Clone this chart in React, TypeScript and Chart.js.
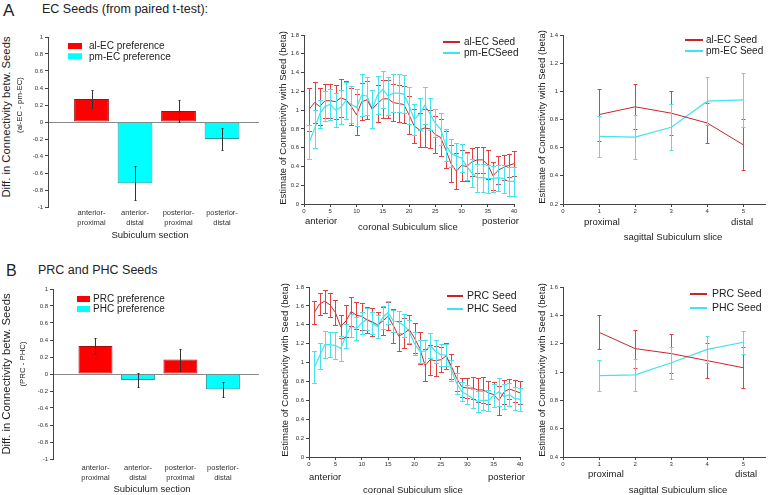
import React, { useEffect, useRef } from 'react';
import { Chart, registerables } from 'chart.js';
Chart.register(...registerables);

const FONT = '"Liberation Sans", Arial, sans-serif';

// ---------- DATA ----------
const barCategories = [['anterior-', 'proximal'], ['anterior-', 'distal'], ['posterior-', 'proximal'], ['posterior-', 'distal']];
const barPositions = [1, 2, 3, 4];
const barValuesA = [0.27, -0.72, 0.13, -0.2];
const barErrA = [0.105, 0.2, 0.13, 0.13];
const barLegendA = ['al-EC preference', 'pm-EC preference'];
const barValuesB = [0.33, -0.07, 0.17, -0.18];
const barErrB = [0.09, 0.08, 0.13, 0.09];
const barLegendB = ['PRC preference', 'PHC preference'];
const barTicks = [-1, -0.8, -0.6, -0.4, -0.2, 0, 0.2, 0.4, 0.6, 0.8, 1];

const coronalSlices = [1, 2, 3, 4, 5, 6, 7, 8, 9, 10, 11, 12, 13, 14, 15, 16, 17, 18, 19, 20, 21, 22, 23, 24, 25, 26, 27, 28, 29, 30, 31, 32, 33, 34, 35, 36, 37, 38, 39, 40];
const coronalTicks = [0, 5, 10, 15, 20, 25, 30, 35, 40];

const corA_alEC = [1.01, 1.08, 1.04, 1.10, 1.10, 1.09, 1.13, 1.11, 1.04, 0.95, 1.09, 1.11, 1.01, 1.07, 1.12, 1.12, 1.08, 1.07, 1.06, 0.95, 0.83, 0.79, 0.81, 0.80, 0.74, 0.71, 0.58, 0.43, 0.35, 0.41, 0.40, 0.45, 0.47, 0.47, 0.42, 0.30, 0.36, 0.39, 0.41, 0.43];
const corA_alEC_err = [0.23, 0.22, 0.2, 0.18, 0.18, 0.18, 0.2, 0.2, 0.2, 0.22, 0.2, 0.2, 0.2, 0.2, 0.2, 0.2, 0.2, 0.2, 0.2, 0.2, 0.18, 0.18, 0.2, 0.2, 0.2, 0.2, 0.2, 0.2, 0.19, 0.17, 0.15, 0.15, 0.14, 0.14, 0.15, 0.15, 0.15, 0.13, 0.12, 0.13];
const corA_pmEC = [0.66, 0.80, 0.96, 1.04, 1.06, 1.00, 1.03, 1.10, 1.06, 1.03, 1.16, 1.15, 1.01, 1.16, 1.22, 1.15, 1.18, 1.18, 1.17, 1.05, 0.90, 0.96, 1.05, 0.96, 0.86, 0.80, 0.63, 0.54, 0.51, 0.49, 0.40, 0.33, 0.28, 0.28, 0.27, 0.27, 0.28, 0.27, 0.24, 0.24];
const corA_pmEC_err = [0.18, 0.2, 0.15, 0.16, 0.16, 0.18, 0.18, 0.2, 0.2, 0.2, 0.22, 0.2, 0.2, 0.2, 0.2, 0.2, 0.2, 0.2, 0.2, 0.2, 0.17, 0.17, 0.2, 0.17, 0.15, 0.17, 0.17, 0.15, 0.14, 0.15, 0.14, 0.15, 0.15, 0.15, 0.15, 0.14, 0.14, 0.15, 0.15, 0.15];

const corB_PRC = [1.53, 1.62, 1.65, 1.61, 1.53, 1.38, 1.44, 1.54, 1.50, 1.49, 1.45, 1.43, 1.40, 1.44, 1.49, 1.39, 1.28, 1.31, 1.35, 1.26, 1.15, 0.97, 1.03, 1.02, 1.03, 1.07, 0.96, 0.83, 0.74, 0.73, 0.73, 0.71, 0.71, 0.68, 0.66, 0.60, 0.69, 0.72, 0.70, 0.68];
const corB_PRC_err = [0.12, 0.12, 0.12, 0.13, 0.13, 0.12, 0.17, 0.15, 0.14, 0.14, 0.14, 0.15, 0.14, 0.15, 0.15, 0.18, 0.16, 0.16, 0.15, 0.16, 0.17, 0.17, 0.16, 0.16, 0.13, 0.14, 0.13, 0.13, 0.1, 0.11, 0.12, 0.13, 0.14, 0.12, 0.13, 0.15, 0.13, 0.11, 0.12, 0.12];
const corB_PHC = [0.95, 1.07, 1.19, 1.19, 1.18, 1.15, 1.28, 1.39, 1.36, 1.42, 1.46, 1.42, 1.38, 1.48, 1.53, 1.44, 1.43, 1.39, 1.33, 1.20, 1.12, 1.12, 1.18, 1.12, 1.08, 1.08, 0.92, 0.78, 0.69, 0.66, 0.62, 0.59, 0.60, 0.60, 0.65, 0.69, 0.64, 0.66, 0.62, 0.61];
const corB_PHC_err = [0.17, 0.14, 0.14, 0.13, 0.14, 0.13, 0.13, 0.12, 0.12, 0.12, 0.12, 0.12, 0.12, 0.12, 0.12, 0.12, 0.12, 0.12, 0.12, 0.12, 0.12, 0.12, 0.13, 0.12, 0.12, 0.12, 0.11, 0.11, 0.1, 0.1, 0.1, 0.11, 0.1, 0.11, 0.12, 0.15, 0.13, 0.12, 0.12, 0.12];

const sagittalSlices = [1, 2, 3, 4, 5];
const sagittalTicks = [0, 1, 2, 3, 4, 5];
const sagA_alEC = [0.835, 0.89, 0.845, 0.775, 0.62];
const sagA_alEC_err = [0.185, 0.16, 0.155, 0.145, 0.18];
const sagA_pmEC = [0.68, 0.675, 0.745, 0.93, 0.94];
const sagA_pmEC_err = [0.145, 0.155, 0.165, 0.17, 0.19];
const sagB_PRC = [1.28, 1.165, 1.13, 1.08, 1.03];
const sagB_PRC_err = [0.12, 0.135, 0.135, 0.125, 0.145];
const sagB_PHC = [0.975, 0.98, 1.065, 1.16, 1.21];
const sagB_PHC_err = [0.112, 0.112, 0.112, 0.097, 0.082];

// ---------- STYLE ----------
const RED = '#ff0000';
const RED_EDGE = '#a01010';
const CYAN = '#00ffff';
const CYAN_EDGE = '#2a9a9a';
const RED_LINE = '#c8262c';
const RED_ERR = '#e04040';
const CYAN_LINE = '#3ee4ee';
const CYAN_ERR = '#48e2ec';
const AXIS = '#444';

type Rect = { L: number; T: number; R: number; B: number };
type Margins = { yW: number; padT: number; padR: number; xH: number };

function frame(p: Rect, m: Margins) {
  return { left: p.L - m.yW, top: p.T - m.padT, width: p.R - p.L + m.yW + m.padR, height: p.B - p.T + m.padT + m.xH };
}

const errorBarPlugin = {
  id: 'errorBars',
  afterDatasetsDraw(chart: any) {
    const ctx = chart.ctx;
    const ys = chart.scales.y;
    chart.data.datasets.forEach((ds: any, di: number) => {
      const errs = ds.errors;
      if (!errs) return;
      const meta = chart.getDatasetMeta(di);
      ctx.save();
      ctx.strokeStyle = ds.errorColor;
      ctx.lineWidth = 1;
      meta.data.forEach((el: any, i: number) => {
        const v = ds.data[i].y;
        const e = errs[i];
        const px = Math.round(el.x) + 0.5;
        const y1 = Math.round(ys.getPixelForValue(v - e)) + 0.5;
        const y2 = Math.round(ys.getPixelForValue(v + e)) + 0.5;
        const c = ds.capHalf || 2;
        ctx.beginPath();
        ctx.moveTo(px, y1);
        ctx.lineTo(px, y2);
        ctx.moveTo(px - c, y1);
        ctx.lineTo(px + c, y1);
        ctx.moveTo(px - c, y2);
        ctx.lineTo(px + c, y2);
        ctx.stroke();
      });
      ctx.restore();
    });
  },
};

const legendPlugin = {
  id: 'boxLegend',
  afterDraw(chart: any, _args: any, opts: any) {
    if (!opts || !opts.items) return;
    const ctx = chart.ctx;
    ctx.save();
    ctx.font = `${opts.size}px ${FONT}`;
    ctx.textBaseline = 'middle';
    ctx.textAlign = 'left';
    opts.items.forEach((it: any, i: number) => {
      const cy = opts.y + i * opts.rowH;
      if (opts.kind === 'box') {
        ctx.fillStyle = it.color;
        ctx.fillRect(opts.x, cy - opts.boxH / 2, opts.swW, opts.boxH);
      } else {
        ctx.strokeStyle = it.color;
        ctx.lineWidth = 2;
        ctx.beginPath();
        ctx.moveTo(opts.x, cy);
        ctx.lineTo(opts.x + opts.swW, cy);
        ctx.stroke();
      }
      ctx.fillStyle = '#222';
      ctx.fillText(it.label, opts.x + opts.swW + opts.gap, cy + 0.5);
    });
    ctx.restore();
  },
};

function zeroPad(s: any) {
  s.paddingLeft = 0;
  s.paddingRight = 0;
  s.paddingTop = 0;
  s.paddingBottom = 0;
}

function tickFmt(v: any) {
  return String(Math.round(Number(v) * 10) / 10);
}

function yScale(min: number, max: number, step: number, m: Margins, zeroLine = false) {
  return {
    type: 'linear',
    position: 'left',
    min,
    max,
    ticks: { stepSize: step, font: { family: FONT, size: 6 }, color: '#333', padding: 2, callback: tickFmt },
    grid: zeroLine
      ? {
          drawOnChartArea: true,
          color: (c: any) => (c.tick && Math.abs(c.tick.value) < 1e-9 ? '#8a8a8a' : 'rgba(0,0,0,0)'),
          tickColor: AXIS,
          tickLength: 3,
        }
      : { drawOnChartArea: false, color: AXIS, tickLength: 3 },
    border: { display: true, color: AXIS },
    afterFit: (s: any) => {
      s.width = m.yW;
      zeroPad(s);
    },
  };
}

function xLinear(min: number, max: number, tickVals: number[], m: Margins) {
  return {
    type: 'linear',
    position: 'bottom',
    min,
    max,
    offset: false,
    afterBuildTicks: (s: any) => {
      s.ticks = tickVals.map((v) => ({ value: v }));
    },
    ticks: { font: { family: FONT, size: 6 }, color: '#333', padding: 1, maxRotation: 0, autoSkip: false, callback: tickFmt },
    grid: { drawOnChartArea: false, color: AXIS, tickLength: 3 },
    border: { display: true, color: AXIS },
    afterFit: (s: any) => {
      s.height = m.xH;
      zeroPad(s);
    },
  };
}

function barConfig(values: number[], errs: number[], legendLabels: string[], p: Rect, m: Margins, leg: any, labelPad: number) {
  const fr = frame(p, m);
  return {
    frame: fr,
    config: {
      type: 'bar',
      data: {
        datasets: [
          {
            data: values.map((v, i) => ({ x: barPositions[i], y: v })),
            backgroundColor: values.map((v) => (v >= 0 ? RED : CYAN)),
            borderColor: values.map((v) => (v >= 0 ? RED_EDGE : CYAN_EDGE)),
            borderWidth: 1,
            borderSkipped: false,
            barPercentage: 1,
            categoryPercentage: 0.8,
            errors: errs,
            errorColor: '#333',
            capHalf: 1,
          },
        ],
      },
      options: {
        animation: false,
        responsive: false,
        devicePixelRatio: 1,
        layout: { padding: { top: m.padT, right: m.padR, left: 0, bottom: 0 } },
        plugins: {
          legend: { display: false },
          tooltip: { enabled: false },
          boxLegend: {
            kind: 'box',
            x: leg.x - fr.left,
            y: leg.y - fr.top,
            rowH: leg.rowH,
            swW: leg.swW,
            boxH: 6,
            gap: leg.gap,
            size: 10,
            items: [
              { label: legendLabels[0], color: RED },
              { label: legendLabels[1], color: CYAN },
            ],
          },
        },
        scales: {
          x: {
            type: 'linear',
            position: 'bottom',
            min: 0,
            max: 4.85,
            offset: false,
            afterBuildTicks: (s: any) => {
              s.ticks = barPositions.map((v) => ({ value: v }));
            },
            ticks: {
              font: { family: FONT, size: 7.5, lineHeight: 1.45 },
              color: '#333',
              padding: labelPad,
              maxRotation: 0,
              autoSkip: false,
              callback: (v: any) => barCategories[Math.round(Number(v)) - 1] || '',
            },
            grid: { display: false, drawTicks: false },
            border: { display: false },
            afterFit: (s: any) => {
              s.height = m.xH;
              zeroPad(s);
            },
          },
          y: {
            ...yScale(-1, 1, 0.2, m, true),
            afterBuildTicks: (s: any) => {
              s.ticks = barTicks.map((v) => ({ value: v }));
            },
          },
        },
      },
      plugins: [errorBarPlugin, legendPlugin],
    },
  };
}

function lineConfig(
  xs: number[],
  s1: number[],
  e1: number[],
  s2: number[],
  e2: number[],
  labels: string[],
  xMin: number,
  xMax: number,
  xTicks: number[],
  yMin: number,
  yMax: number,
  p: Rect,
  m: Margins,
  leg: any,
  cap: number
) {
  const fr = frame(p, m);
  return {
    frame: fr,
    config: {
      type: 'line',
      data: {
        datasets: [
          {
            label: labels[0],
            data: xs.map((x, i) => ({ x, y: s1[i] })),
            borderColor: RED_LINE,
            borderWidth: 1,
            pointRadius: 0,
            tension: 0,
            errors: e1,
            errorColor: RED_ERR,
            capHalf: cap,
          },
          {
            label: labels[1],
            data: xs.map((x, i) => ({ x, y: s2[i] })),
            borderColor: CYAN_LINE,
            borderWidth: 1.2,
            pointRadius: 0,
            tension: 0,
            errors: e2,
            errorColor: CYAN_ERR,
            capHalf: cap,
          },
        ],
      },
      options: {
        animation: false,
        responsive: false,
        devicePixelRatio: 1,
        layout: { padding: { top: m.padT, right: m.padR, left: 0, bottom: 0 } },
        plugins: {
          legend: { display: false },
          tooltip: { enabled: false },
          boxLegend: {
            kind: 'line',
            x: leg.x - fr.left,
            y: leg.y - fr.top,
            rowH: leg.rowH,
            swW: leg.swW,
            gap: leg.gap,
            size: leg.size,
            items: [
              { label: labels[0], color: RED_LINE },
              { label: labels[1], color: CYAN_LINE },
            ],
          },
        },
        scales: {
          x: xLinear(xMin, xMax, xTicks, m),
          y: yScale(yMin, yMax, 0.2, m),
        },
      },
      plugins: [errorBarPlugin, legendPlugin],
    },
  };
}

function ChartBox({ spec }: { spec: any }) {
  const ref = useRef<HTMLCanvasElement>(null);
  useEffect(() => {
    const c = new Chart(ref.current as HTMLCanvasElement, spec.config);
    return () => c.destroy();
  }, []);
  const f = spec.frame;
  return (
    <canvas
      ref={ref}
      width={f.width}
      height={f.height}
      style={{ position: 'absolute', left: f.left, top: f.top, width: f.width, height: f.height }}
    />
  );
}

function Txt({ x, y, s, a = 'left', r = false, children }: any) {
  const tx = a === 'left' ? '0' : a === 'center' ? '-50%' : '-100%';
  return (
    <div
      style={{
        position: 'absolute',
        left: x,
        top: y,
        fontFamily: FONT,
        fontSize: s,
        lineHeight: 1,
        whiteSpace: 'nowrap',
        color: '#222',
        transform: r ? 'translate(-50%,-50%) rotate(-90deg)' : `translate(${tx},-50%)`,
      }}
    >
      {children}
    </div>
  );
}

const mBar: Margins = { yW: 24, padT: 6, padR: 2, xH: 32 };
const mCor: Margins = { yW: 16, padT: 6, padR: 4, xH: 14 };
const mSag: Margins = { yW: 16, padT: 6, padR: 2, xH: 14 };

const specs = [
  barConfig(barValuesA, barErrA, barLegendA, { L: 48, T: 37, R: 259, B: 207 }, mBar, { x: 68, y: 46, rowH: 10.3, swW: 14, gap: 7 }, 0),
  barConfig(barValuesB, barErrB, barLegendB, { L: 53, T: 289, R: 259, B: 459 }, mBar, { x: 77, y: 299, rowH: 10, swW: 13, gap: 3 }, 3),
  lineConfig(coronalSlices, corA_alEC, corA_alEC_err, corA_pmEC, corA_pmEC_err, ['al-EC Seed', 'pm-ECSeed'], 0, 40, coronalTicks, 0, 1.8,
    { L: 304, T: 35, R: 514, B: 204 }, mCor, { x: 443, y: 42, rowH: 11, swW: 17, gap: 4, size: 10 }, 2.5),
  lineConfig(coronalSlices, corB_PRC, corB_PRC_err, corB_PHC, corB_PHC_err, ['PRC Seed', 'PHC Seed'], 0, 40, coronalTicks, 0, 1.8,
    { L: 309, T: 287, R: 520, B: 457 }, mCor, { x: 447, y: 296, rowH: 13, swW: 16, gap: 4, size: 10.5 }, 2.5),
  lineConfig(sagittalSlices, sagA_alEC, sagA_alEC_err, sagA_pmEC, sagA_pmEC_err, ['al-EC Seed', 'pm-EC Seed'], 0, 5.6, sagittalTicks, 0.2, 1.4,
    { L: 563, T: 35, R: 765, B: 204 }, mSag, { x: 685, y: 40, rowH: 11, swW: 18, gap: 3, size: 10 }, 2),
  lineConfig(sagittalSlices, sagB_PRC, sagB_PRC_err, sagB_PHC, sagB_PHC_err, ['PRC Seed', 'PHC Seed'], 0, 5.6, sagittalTicks, 0.4, 1.6,
    { L: 563, T: 287, R: 765, B: 457 }, mSag, { x: 690, y: 294, rowH: 14, swW: 17, gap: 5, size: 10.5 }, 2),
];

export default function App() {
  return (
    <div style={{ position: 'absolute', left: 0, top: 0, width: 768, height: 495, background: '#fff', overflow: 'hidden' }}>
      {specs.map((s, i) => (
        <ChartBox key={i} spec={s} />
      ))}

      <Txt x={3} y={10} s={17}>A</Txt>
      <Txt x={42} y={9} s={12.5}>EC Seeds (from paired t-test):</Txt>
      <Txt x={6} y={271} s={16}>B</Txt>
      <Txt x={38} y={270} s={12.5}>PRC and PHC Seeds</Txt>

      <Txt x={7} y={117} s={11.3} r>Diff. in Connectivity betw. Seeds</Txt>
      <Txt x={20} y={105} s={7.8} r>(al-EC - pm-EC)</Txt>
      <Txt x={7} y={374} s={11.3} r>Diff. in Connectivity betw. Seeds</Txt>
      <Txt x={23} y={364} s={7.8} r>(PRC - PHC)</Txt>

      <Txt x={283} y={118} s={9.5} r>Estimate of Connectivity with Seed (beta)</Txt>
      <Txt x={285} y={370} s={9.5} r>Estimate of Connectivity with Seed (beta)</Txt>
      <Txt x={542} y={117} s={9.5} r>Estimate of Connectivity with Seed (beta)</Txt>
      <Txt x={542} y={370} s={9.5} r>Estimate of Connectivity with Seed (beta)</Txt>

      <Txt x={150} y={235} s={9.5} a="center">Subiculum section</Txt>
      <Txt x={152} y={489} s={9.5} a="center">Subiculum section</Txt>
      <Txt x={408} y={227} s={9.5} a="center">coronal Subiculum slice</Txt>
      <Txt x={413} y={490} s={9.5} a="center">coronal Subiculum slice</Txt>
      <Txt x={673} y={237} s={9.5} a="center">sagittal Subiculum slice</Txt>
      <Txt x={678} y={490} s={9.5} a="center">sagittal Subiculum slice</Txt>

      <Txt x={305} y={221} s={9.5}>anterior</Txt>
      <Txt x={482} y={221} s={9.5}>posterior</Txt>
      <Txt x={309} y={477} s={9.5}>anterior</Txt>
      <Txt x={488} y={477} s={9.5}>posterior</Txt>
      <Txt x={584} y={222} s={9.5}>proximal</Txt>
      <Txt x={731} y={222} s={9.5}>distal</Txt>
      <Txt x={588} y={474} s={9.5}>proximal</Txt>
      <Txt x={735} y={474} s={9.5}>distal</Txt>
    </div>
  );
}
